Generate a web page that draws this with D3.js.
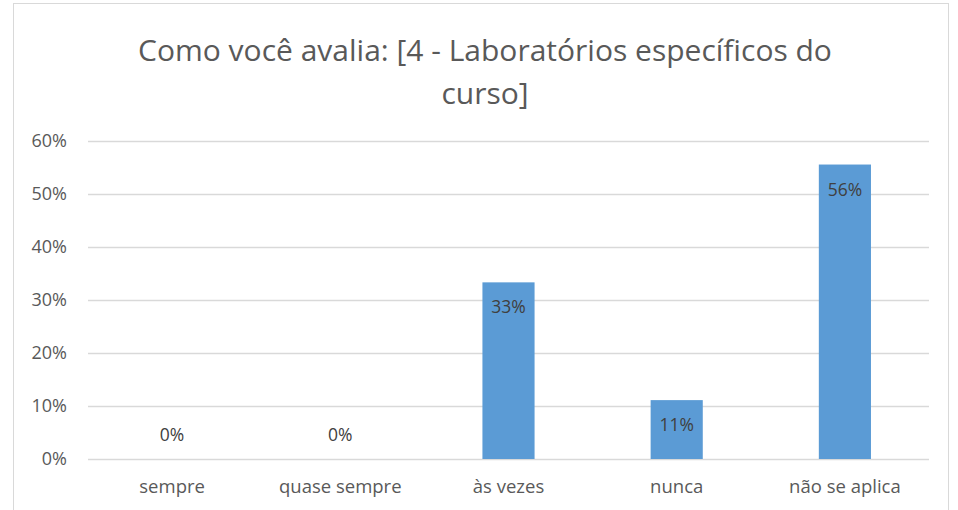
<!DOCTYPE html>
<html>
<head>
    <meta charset="utf-8">
    <script src="https://cdn.jsdelivr.net/npm/d3@7"></script>
    <style>
        * { margin: 0; padding: 0; }
        body { background: #fff; }
        svg { display: block; font-family: "Open Sans", sans-serif; }
    </style>
</head>
<body>
    <svg id="chart" width="958" height="510"></svg>
    <script>
        var categories = ["sempre", "quase sempre", "às vezes", "nunca", "não se aplica"];
        var values = [0, 0, 0.3333, 0.1111, 0.5556];
        var labels = ["0%", "0%", "33%", "11%", "56%"];
        var yTicks = [0, 0.1, 0.2, 0.3, 0.4, 0.5, 0.6];
        var titleLines = ["Como você avalia: [4 - Laboratórios específicos do", "curso]"];

        var svg = d3.select("#chart");

        // chart frame
        svg.append("rect")
            .attr("x", 13.5).attr("y", 3.5)
            .attr("width", 935).attr("height", 520)
            .attr("fill", "#fff")
            .attr("stroke", "#d9d9d9");

        svg.selectAll(".title").data(titleLines).enter()
            .append("text")
            .attr("class", "title")
            .attr("x", 485)
            .attr("y", function (d, i) { return 61 + i * 43; })
            .attr("text-anchor", "middle")
            .attr("fill", "#595959")
            .style("font-size", "30px")
            .text(function (d) { return d; });

        var margin = { left: 88, right: 929, top: 141, bottom: 459 };

        var x = d3.scaleBand()
            .domain(categories)
            .range([margin.left, margin.right])
            .padding(0);

        var y = d3.scaleLinear()
            .domain([0, 0.6])
            .range([margin.bottom, margin.top]);

        // gridlines
        svg.append("g")
            .attr("transform", "translate(" + margin.left + ",0)")
            .call(d3.axisLeft(y).tickValues(yTicks).tickSize(-(margin.right - margin.left)).tickFormat(d3.format(".0%")))
            .call(function (g) {
                g.select(".domain").remove();
                g.selectAll(".tick line").attr("stroke", "#d9d9d9").attr("stroke-width", 1.3);
                g.selectAll(".tick text")
                    .attr("x", -21)
                    .attr("fill", "#595959")
                    .style("font-size", "18px")
                    .style("font-family", "Open Sans");
            });

        // category axis
        svg.append("g")
            .attr("transform", "translate(0," + margin.bottom + ")")
            .call(d3.axisBottom(x).tickSize(0))
            .call(function (g) {
                g.select(".domain").remove();
                g.selectAll(".tick text")
                    .attr("y", 21)
                    .attr("fill", "#595959")
                    .style("font-size", "18.5px")
                    .style("font-family", "Open Sans");
            });

        var barW = x.bandwidth() * 0.31;
        var data = categories.map(function (c, i) { return { cat: c, v: values[i], label: labels[i] }; });

        svg.selectAll(".bar").data(data).enter()
            .append("rect")
            .attr("class", "bar")
            .attr("x", function (d) { return x(d.cat) + (x.bandwidth() - barW) / 2; })
            .attr("y", function (d) { return y(d.v); })
            .attr("width", barW)
            .attr("height", function (d) { return y(0) - y(d.v); })
            .attr("fill", "#5b9bd5");

        svg.selectAll(".lbl").data(data).enter()
            .append("text")
            .attr("class", "lbl")
            .attr("x", function (d) { return x(d.cat) + x.bandwidth() / 2; })
            .attr("y", function (d) { return d.v > 0 ? y(d.v) + 31 : y(0) - 18; })
            .attr("text-anchor", "middle")
            .attr("fill", "#404040")
            .style("font-size", "17.5px")
            .text(function (d) { return d.label; });
    </script>
</body>
</html>
